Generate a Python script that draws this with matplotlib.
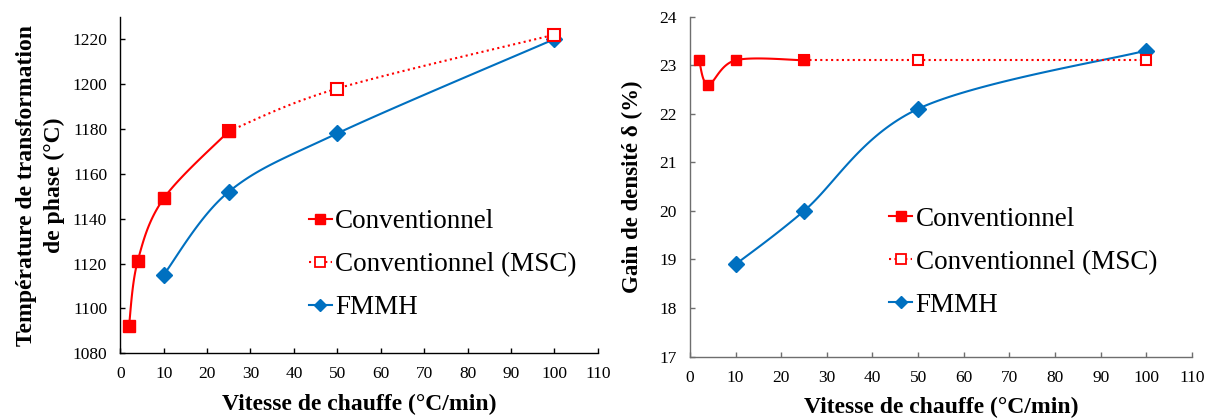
import numpy as np
import matplotlib.pyplot as plt
from matplotlib.lines import Line2D

plt.rcParams['font.family'] = ['Liberation Serif', 'DejaVu Serif']

# ---- data ----
conv_rate = [2, 4, 10, 25]
msc_rate = [25, 50, 100]
fmmh_rate = [10, 25, 50, 100]

conv_temp = [1092, 1121, 1149, 1179]
msc_temp = [1179, 1198, 1222]
fmmh_temp = [1115, 1152, 1178, 1220]

conv_gain = [23.1, 22.6, 23.1, 23.1]
msc_gain = [23.1, 23.1, 23.1]
fmmh_gain = [18.9, 20.0, 22.1, 23.3]

x_ticks = list(range(0, 111, 10))
temp_ticks = list(range(1080, 1221, 20))
gain_ticks = list(range(17, 25))

labels = ["Conventionnel", "Conventionnel (MSC)", "FMMH"]

RED = "#ff0000"
BLUE = "#0070c0"


def smooth_path(ax, xs, ys, n=40):
    # excel-like smoothed line: cubic bezier through the points, built in pixel space
    P = ax.transData.transform(np.column_stack([xs, ys]))
    m = len(P)
    pts = []
    t = np.linspace(0, 1, n)[:, None]
    for i in range(m - 1):
        p0 = P[max(i - 1, 0)]
        p1 = P[i]
        p2 = P[i + 1]
        p3 = P[min(i + 2, m - 1)]
        c1 = p1 + (p2 - p0) / 6.0
        c2 = p2 - (p3 - p1) / 6.0
        seg = (1 - t)**3 * p1 + 3 * (1 - t)**2 * t * c1 + 3 * (1 - t) * t**2 * c2 + t**3 * p2
        pts.append(seg if i == 0 else seg[1:])
    curve = ax.transData.inverted().transform(np.vstack(pts))
    return curve[:, 0], curve[:, 1]


def style_axes(ax, spine_color):
    for s in ["top", "right"]:
        ax.spines[s].set_visible(False)
    for s in ["left", "bottom"]:
        ax.spines[s].set_color(spine_color)
        ax.spines[s].set_linewidth(1.0)
    ax.tick_params(direction="in", length=3.5, width=1.0, color=spine_color,
                   labelsize=12.5, pad=9.5)
    ax.set_xticks(x_ticks)
    ax.set_xlabel("Vitesse de chauffe (°C/min)", fontsize=17, fontweight="bold", labelpad=8)


def draw_series(ax, conv, msc, fmmh, ms_sq, ms_d):
    sx, sy = smooth_path(ax, fmmh_rate, fmmh)
    ax.plot(sx, sy, color=BLUE, lw=1.5, zorder=2)
    ax.plot(fmmh_rate, fmmh, ls="none", marker="D", ms=ms_d, color=BLUE, zorder=3)

    sx, sy = smooth_path(ax, msc_rate, msc)
    ax.plot(sx, sy, color=RED, lw=1.5, ls=(0, (1, 1.6)), zorder=2)
    ax.plot(msc_rate, msc, ls="none", marker="s", ms=ms_sq, mfc="white", mec=RED,
            mew=1.5, zorder=3)

    sx, sy = smooth_path(ax, conv_rate, conv)
    ax.plot(sx, sy, color=RED, lw=1.5, zorder=4)
    ax.plot(conv_rate, conv, ls="none", marker="s", ms=ms_sq, color=RED, zorder=5)


def add_legend(ax, anchor):
    handles = [
        Line2D([], [], color=RED, lw=1.5, marker="s", ms=6.5),
        Line2D([], [], color=RED, lw=1.5, ls=(0, (1, 1.6)), marker="s", ms=6.5,
               mfc="white", mec=RED, mew=1.3),
        Line2D([], [], color=BLUE, lw=1.5, marker="D", ms=6.5),
    ]
    ax.legend(handles, labels, loc="center left", bbox_to_anchor=anchor,
              bbox_transform=ax.figure.transFigure, frameon=False, fontsize=19.5,
              handlelength=0.85, handletextpad=0.12, labelspacing=0.66,
              borderpad=0, borderaxespad=0)


fig = plt.figure(figsize=(12.1, 4.19), dpi=100)
ax1 = fig.add_axes([0.0994, 0.1568, 0.3946, 0.8033])
ax2 = fig.add_axes([0.5702, 0.1487, 0.4149, 0.8119])

# left: transformation temperature
ax1.set_xlim(0, 110)
ax1.set_ylim(1080, 1230)
ax1.set_yticks(temp_ticks)
style_axes(ax1, "black")
draw_series(ax1, conv_temp, msc_temp, fmmh_temp, ms_sq=8, ms_d=8)
ax1.set_ylabel("Température de transformation\nde phase (°C)", fontsize=17,
               fontweight="bold", linespacing=1.43)
ax1.yaxis.set_label_coords(-0.116, 0.5)
add_legend(ax1, (0.255, 0.368))

# right: densification gain
ax2.set_xlim(0, 110)
ax2.set_ylim(17, 24)
ax2.set_yticks(gain_ticks)
style_axes(ax2, "#6e6e6e")
draw_series(ax2, conv_gain, msc_gain, fmmh_gain, ms_sq=7.5, ms_d=8)
ax2.set_ylabel("Gain de densité δ (%)", fontsize=16.5, fontweight="bold")
ax2.yaxis.set_label_coords(-0.094, 0.5)
add_legend(ax2, (0.735, 0.374))

fig.savefig("out.png", dpi=100)
